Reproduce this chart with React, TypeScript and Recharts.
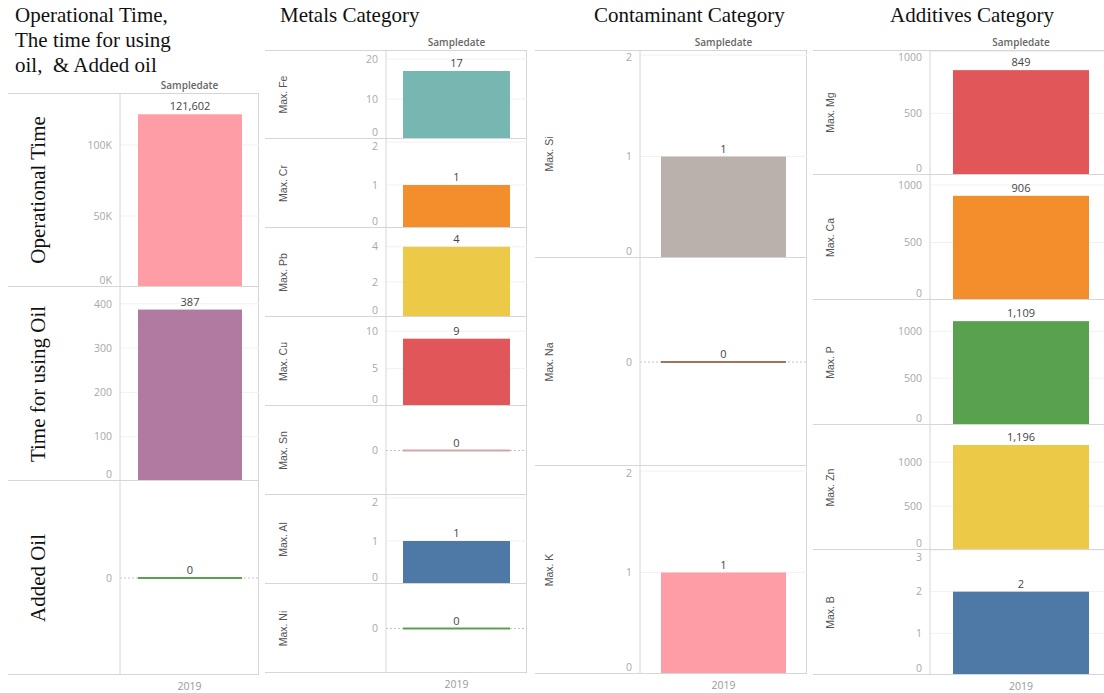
import React from 'react'
import { BarChart, Bar, XAxis, YAxis, CartesianGrid, LabelList } from 'recharts'

const SAMPLE_YEAR = '2019'

// Operational time, time for using oil and added oil
const usageLabels = ['Operational Time', 'Time for using Oil', 'Added Oil']
const usageValues = [121602, 387, 0]
const usageColors = ['#FF9DA7', '#B07AA1', '#59A14F']
const usageAxisMax = [136600, 438, 0]
const usageTicks = [[0, 50000, 100000], [0, 100, 200, 300, 400], [0]]

// Metals
const metalLabels = ['Max. Fe', 'Max. Cr', 'Max. Pb', 'Max. Cu', 'Max. Sn', 'Max. Al', 'Max. Ni']
const metalValues = [17, 1, 4, 9, 0, 1, 0]
const metalColors = ['#76B7B2', '#F28E2B', '#EDC948', '#E15759', '#D9A3A8', '#4E79A7', '#59A14F']
const metalAxisMax = [22.25, 2.07, 5.07, 11.9, 0, 2.07, 0]
const metalTicks = [[0, 10, 20], [0, 1, 2], [0, 2, 4], [0, 5, 10], [0], [0, 1, 2], [0]]

// Contaminants
const contaminantLabels = ['Max. Si', 'Max. Na', 'Max. K']
const contaminantValues = [1, 0, 1]
const contaminantColors = ['#BAB0AC', '#9C755F', '#FF9DA7']
const contaminantAxisMax = [2.05, 0, 2.05]
const contaminantTicks = [[0, 1, 2], [0], [0, 1, 2]]

// Additives
const additiveLabels = ['Max. Mg', 'Max. Ca', 'Max. P', 'Max. Zn', 'Max. B']
const additiveValues = [849, 906, 1109, 1196, 2]
const additiveColors = ['#E15759', '#F28E2B', '#59A14F', '#EDC948', '#4E79A7']
const additiveAxisMax = [1012, 1087, 1335, 1424, 3]
const additiveTicks = [[0, 500, 1000], [0, 500, 1000], [0, 500, 1000], [0, 500, 1000], [0, 1, 2, 3]]

const SANS = '"Open Sans", "DejaVu Sans", sans-serif'
const SERIF = '"Liberation Serif", "DejaVu Serif", serif'
const LINE = '#d6d6d6'

const plainTick = (v: number) => String(v)
const thousandsTick = (v: number) => `${v / 1000}K`

// zero-height bars still show as a thin line on the axis
function BarShape(props: any) {
    const { x, y, width, height, fill } = props
    if (!height) return <rect x={x} y={y - 1} width={width} height={2} fill={fill} />
    return <rect x={x} y={y} width={width} height={height} fill={fill} />
}

interface RowProps {
    label: string
    value: number
    color: string
    axisMax: number
    ticks: number[]
    width: number
    height: number
    axisWidth: number
    barSize: number
    labelOffset: number
    bigLabel?: boolean
    formatTick: (v: number) => string
}

function PaneRow({ label, value, color, axisMax, ticks, width, height, axisWidth, barSize, labelOffset, bigLabel, formatTick }: RowProps) {
    const data = [{ date: SAMPLE_YEAR, value }]
    const centered = axisMax === 0
    const domain = centered ? [-1, 1] : [0, axisMax]

    // keep edge tick labels inside the pane
    const renderTick = (p: any) => {
        const y = Math.min(Math.max(p.y, 7), height - 7)
        return (
            <text x={p.x} y={y} dy="0.35em" textAnchor="end" fontSize={10.5} fill="#a8a8a8" fontFamily={SANS}>
                {formatTick(p.payload.value)}
            </text>
        )
    }

    const labelStyle = bigLabel
        ? { textAnchor: 'middle' as const, fontSize: 21, fill: '#111', fontFamily: SERIF }
        : { textAnchor: 'middle' as const, fontSize: 10.5, fill: '#555', fontFamily: '"Liberation Sans", Arial, sans-serif' }

    return (
        <BarChart width={width} height={height} data={data} margin={{ top: 0, right: 0, bottom: 0, left: 0 }}>
            {/* a zero-centred pane only has the dotted zero line */}
            <CartesianGrid
                vertical={false}
                syncWithTicks
                stroke={centered ? '#c4c4c4' : '#f1f1f1'}
                strokeDasharray={centered ? '2 2' : undefined}
            />
            <XAxis dataKey="date" hide />
            <YAxis
                type="number"
                domain={domain}
                ticks={ticks}
                interval={0}
                allowDataOverflow
                width={axisWidth}
                axisLine={{ stroke: LINE }}
                tickLine={false}
                tick={renderTick}
                label={{ value: label, angle: -90, position: 'insideLeft', offset: labelOffset, style: labelStyle }}
            />
            <Bar dataKey="value" fill={color} barSize={barSize} isAnimationActive={false} shape={BarShape}>
                <LabelList
                    dataKey="value"
                    position="top"
                    offset={4}
                    fontSize={11}
                    fill="#444"
                    fontFamily={SANS}
                    formatter={(v: any) => Number(v).toLocaleString('en-US')}
                />
            </Bar>
        </BarChart>
    )
}

interface PanelProps {
    left: number
    axisX: number
    right: number
    top: number
    rowHeight: number
    barSize: number
    labelOffset: number
    labels: string[]
    values: number[]
    colors: string[]
    axisMax: number[]
    ticks: number[][]
    bigLabels?: boolean
    tickFormats?: ((v: number) => string)[]
}

function Panel(p: PanelProps) {
    const width = p.right - p.left
    const plotWidth = p.right - p.axisX
    const bottom = p.top + p.rowHeight * p.labels.length
    return (
        <>
            <div style={{ position: 'absolute', left: p.axisX, top: p.top - 15, width: plotWidth, textAlign: 'center', fontSize: 10, lineHeight: '14px', color: '#666', fontFamily: SANS, fontWeight: 600 }}>
                Sampledate
            </div>
            <div style={{ position: 'absolute', left: p.left, top: p.top, width, height: 1, background: LINE }} />
            <div style={{ position: 'absolute', left: p.right - 1, top: p.top, width: 1, height: bottom - p.top, background: LINE }} />
            {p.labels.map((label, i) => (
                <div key={label} style={{ position: 'absolute', left: p.left, top: p.top + i * p.rowHeight, width, height: p.rowHeight }}>
                    <PaneRow
                        label={label}
                        value={p.values[i]}
                        color={p.colors[i]}
                        axisMax={p.axisMax[i]}
                        ticks={p.ticks[i]}
                        width={width}
                        height={p.rowHeight}
                        axisWidth={p.axisX - p.left}
                        barSize={p.barSize}
                        labelOffset={p.labelOffset}
                        bigLabel={p.bigLabels}
                        formatTick={p.tickFormats ? p.tickFormats[i] : plainTick}
                    />
                    <div style={{ position: 'absolute', left: 0, top: p.rowHeight - 1, width, height: 1, background: LINE }} />
                </div>
            ))}
            <div style={{ position: 'absolute', left: p.axisX, top: bottom + 4, width: plotWidth, textAlign: 'center', fontSize: 10.5, lineHeight: '14px', color: '#999', fontFamily: SANS }}>
                {SAMPLE_YEAR}
            </div>
        </>
    )
}

const titleStyle: React.CSSProperties = {
    position: 'absolute',
    fontFamily: SERIF,
    fontSize: 21,
    lineHeight: '25px',
    color: '#111',
    whiteSpace: 'nowrap'
}

export default function App() {
    return (
        <div style={{ position: 'absolute', left: 0, top: 0, width: 1104, height: 693, overflow: 'hidden', background: '#fff' }}>
            <div style={{ ...titleStyle, left: 15, top: 3 }}>
                Operational Time,<br />The time for using<br />oil,&nbsp; &amp; Added oil
            </div>
            <div style={{ ...titleStyle, left: 280, top: 3 }}>Metals Category</div>
            <div style={{ ...titleStyle, left: 594, top: 3 }}>Contaminant Category</div>
            <div style={{ ...titleStyle, left: 890, top: 3 }}>Additives Category</div>

            <Panel
                left={8} axisX={120} right={259} top={93} rowHeight={194} barSize={104} labelOffset={30}
                labels={usageLabels} values={usageValues} colors={usageColors}
                axisMax={usageAxisMax} ticks={usageTicks} bigLabels
                tickFormats={[thousandsTick, plainTick, plainTick]}
            />
            <Panel
                left={265} axisX={386} right={527} top={50} rowHeight={89} barSize={107} labelOffset={18}
                labels={metalLabels} values={metalValues} colors={metalColors}
                axisMax={metalAxisMax} ticks={metalTicks}
            />
            <Panel
                left={535} axisX={640} right={807} top={50} rowHeight={208} barSize={125} labelOffset={14}
                labels={contaminantLabels} values={contaminantValues} colors={contaminantColors}
                axisMax={contaminantAxisMax} ticks={contaminantTicks}
            />
            <Panel
                left={813} axisX={930} right={1112} top={50} rowHeight={125} barSize={136} labelOffset={17}
                labels={additiveLabels} values={additiveValues} colors={additiveColors}
                axisMax={additiveAxisMax} ticks={additiveTicks}
            />
        </div>
    )
}
